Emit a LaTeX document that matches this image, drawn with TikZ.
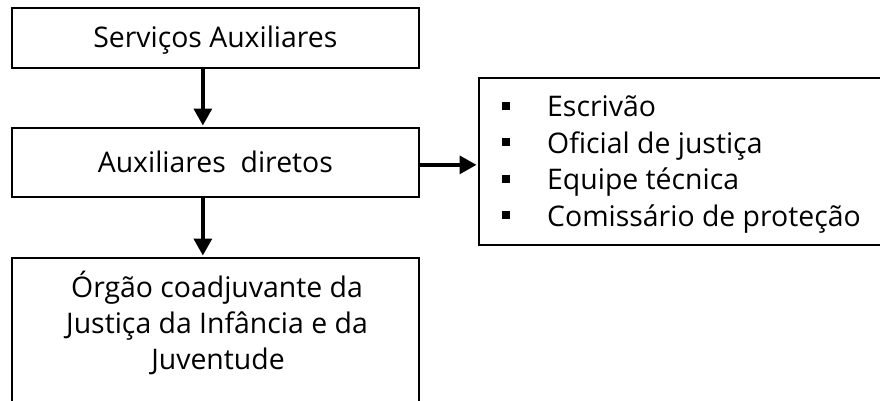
\documentclass[tikz,border=0pt]{standalone}
\usepackage{fontspec}
\setmainfont{Open Sans}
\usetikzlibrary{arrows.meta}
\begin{document}
\begin{tikzpicture}[x=1bp,y=-1bp,
  box/.style={draw,line width=1.7bp,inner sep=0pt,anchor=north west,
    font=\fontsize{28.5}{36}\selectfont,text height=20bp,text depth=0bp},
  arr/.style={line width=3.4bp,-{Triangle[length=17bp,width=18bp]},shorten >=1.5bp},
  txt/.style={inner sep=0pt,font=\fontsize{28.5}{36}\selectfont},
  bul/.style={fill,minimum size=8bp,inner sep=0pt,anchor=south west}]
\useasboundingbox (0,0) rectangle (880,400);
\fill[white] (0,0) rectangle (880,400);
\node[box,minimum width=407bp,minimum height=60bp] (s) at (11,7) {Serviços Auxiliares};
\node[box,minimum width=407bp,minimum height=69bp] (a) at (11,127) {Auxiliares\ \ diretos};
\node[box,minimum width=407bp,minimum height=160bp] (o) at (11,257) {};
\node[box,minimum width=420bp,minimum height=167bp] (r) at (478,77) {};
\node[txt,anchor=base] (o1) at (217,297) {Órgão coadjuvante da};
\node[txt,anchor=base] (o2) at (217,333) {Justiça da Infância e da};
\node[txt,anchor=base] (o3) at (218,369) {Juventude};
\node[bul] (b1) at (502,110) {};
\node[bul] (b2) at (502,146.5) {};
\node[bul] (b3) at (502,183) {};
\node[bul] (b4) at (502,219.5) {};
\node[txt,anchor=base west] (r1) at (547,116.5) {Escrivão};
\node[txt,anchor=base west] (r2) at (547,153) {Oficial de justiça};
\node[txt,anchor=base west] (r3) at (547,189.5) {Equipe técnica};
\node[txt,anchor=base west] (r4) at (547,226) {Comissário de proteção};
\draw[arr] ([xshift=-12.5bp]s.south) -- ([xshift=-12.5bp]a.north);
\draw[arr] ([xshift=-12.5bp]a.south) -- ([xshift=-12.5bp]o.north);
\draw[arr] ([yshift=-2.5bp]a.east) -- ([yshift=-2.5bp]a.east -| r.west);
\end{tikzpicture}
\end{document}
